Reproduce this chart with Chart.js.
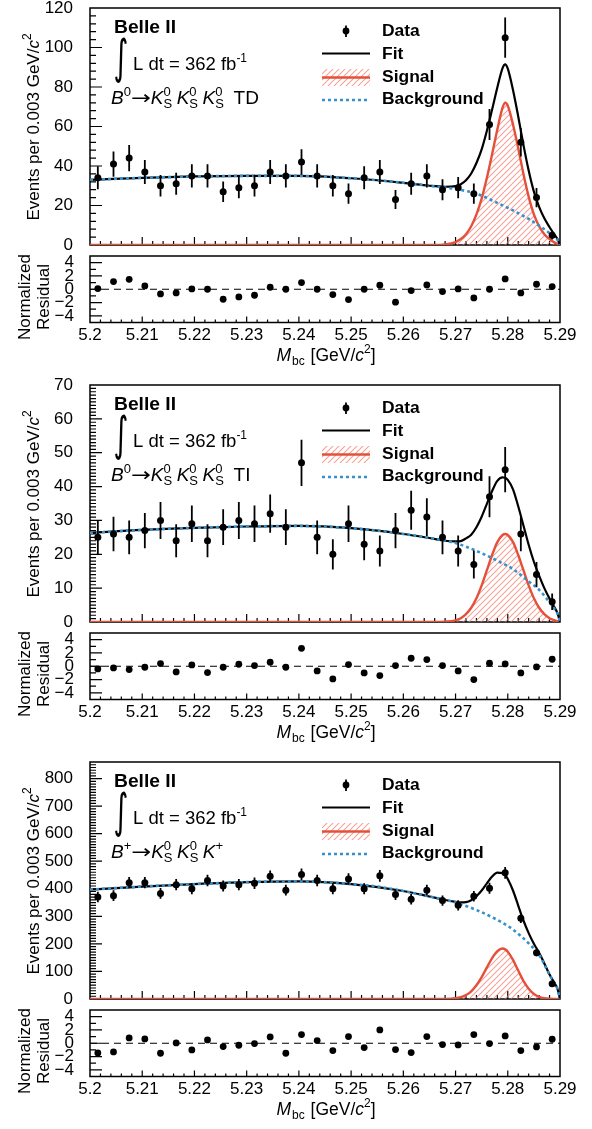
<!DOCTYPE html>
<html>
<head>
<meta charset="utf-8">
<script src="https://cdn.jsdelivr.net/npm/chart.js@4.4.1/dist/chart.umd.min.js"></script>
<style>
  html, body { margin: 0; padding: 0; background: #fff; overflow: hidden; }
  #wrap { position: relative; width: 592px; height: 1129px; overflow: hidden; background: #fff; }
  #wrap canvas { position: absolute; left: 0; }
</style>
</head>
<body>
<div id="wrap"></div>
<script>
// ---- Binned M_bc data (bin width 0.003 GeV/c^2) ----
const binCenters = [5.2015, 5.2045, 5.2075, 5.2105, 5.2135, 5.2165, 5.2195, 5.2225, 5.2255, 5.2285,
                    5.2315, 5.2345, 5.2375, 5.2405, 5.2435, 5.2465, 5.2495, 5.2525, 5.2555, 5.2585,
                    5.2615, 5.2645, 5.2675, 5.2705, 5.2735, 5.2765, 5.2795, 5.2825, 5.2855, 5.2885];

// B0 -> KS KS KS, time-dependent sample
const tdCounts    = [34, 41, 44, 37, 30, 31, 35, 35, 27, 29, 30, 37, 35, 42, 35, 30, 26, 34, 37, 23,
                     31, 35, 28, 29, 26, 61, 105, 52, 24, 5];
const tdResiduals = [0.1, 1.15, 1.5, 0.5, -0.7, -0.55, 0.05, 0.0, -1.5, -1.15, -0.9, 0.3, 0.0, 1.0, 0.0,
                     -0.8, -1.55, 0.0, 0.6, -1.95, -0.2, 0.65, -0.35, 0.05, -1.3, 0.0, 1.55, -0.55, 0.75, 0.4];

// B0 -> KS KS KS, time-integrated sample
const tiCounts    = [25, 26, 25, 27, 30, 24, 29, 24, 28, 30, 29, 32, 28, 47, 25, 20, 29, 23, 21, 27,
                     33, 31, 25, 21, 17, 37, 45, 26, 14, 6];
const tiResiduals = [-0.4, -0.25, -0.5, -0.15, 0.4, -0.85, 0.2, -0.95, -0.15, 0.3, 0.1, 0.6, -0.15, 2.7, -0.7,
                     -1.9, 0.25, -1.0, -1.4, 0.1, 1.2, 1.0, 0.1, -0.7, -2.0, 0.45, 0.35, -1.0, -0.1, 1.05];

// B+ -> KS KS K+
const kpCounts    = [370, 375, 422, 422, 383, 415, 400, 430, 410, 415, 420, 445, 395, 452, 430, 400, 435, 400, 447, 379,
                     362, 395, 357, 340, 373, 402, 458, 293, 168, 55];
const kpResiduals = [-1.45, -1.3, 0.8, 0.65, -1.5, 0.05, -1.0, 0.5, -0.5, -0.3, -0.05, 0.95, -1.5, 1.3, 0.4,
                     -1.1, 1.0, -0.65, 2.0, -0.95, -1.4, 1.0, -0.2, -0.25, 1.3, -0.05, 1.1, -1.1, -0.55, 0.6];

// ---- Fit projections ----
const bkgMass = [5.200, 5.210, 5.220, 5.230, 5.240, 5.250, 5.255, 5.260, 5.265, 5.270,
                 5.274, 5.278, 5.281, 5.284, 5.286, 5.288, 5.289, 5.2895, 5.290];
const tdBackground = [33.0, 34.0, 34.7, 35.0, 35.0, 33.8, 32.8, 31.5, 30.0, 28.3, 26.0, 21.3, 17.5, 13.2, 9.8, 6.0, 3.8, 2.6, 0];
const tiBackground = [26.3, 27.2, 27.8, 28.2, 28.4, 27.7, 27.0, 26.0, 24.8, 23.3, 21.0, 18.1, 15.6, 12.0, 9.5, 5.8, 3.7, 2.5, 0];
const kpBackground = [397, 408, 417, 424, 427, 417, 408, 392, 372, 350, 323, 287, 252, 202, 160, 88, 56, 38, 0];

const sigMass = [5.200, 5.266, 5.268, 5.270, 5.271, 5.272, 5.273, 5.274, 5.275, 5.276, 5.277, 5.278, 5.279,
                 5.2795, 5.280, 5.281, 5.282, 5.283, 5.284, 5.285, 5.286, 5.287, 5.288, 5.289, 5.290];
const tdSignal = [0, 0, 0.3, 1.5, 3.0, 5.5, 9.5, 15.5, 23.5, 34, 46, 58.5, 69.5, 72, 70.5, 61, 49, 36, 24.5, 15.5, 9.5, 5.5, 3.0, 1.2, 0];
const tiSignal = [0, 0, 0.1, 0.5, 1.1, 2.3, 4.2, 7.0, 10.8, 15.3, 19.8, 23.6, 25.7, 26, 25.7, 23.6, 19.8, 15.3, 10.8, 7.0, 4.2, 2.3, 1.1, 0.5, 0];
const kpSignal = [0, 0, 0.3, 2.7, 6.5, 14.3, 28.1, 49.9, 79.6, 114.5, 148.6, 173.7, 183, 180.1, 171.7, 141.8, 103.1, 65.9, 37.2, 18.4, 8.0, 3.1, 1.0, 0.3, 0];

const fitMass = [5.200, 5.210, 5.220, 5.230, 5.240, 5.250, 5.260, 5.265, 5.268, 5.270, 5.271, 5.272, 5.273, 5.274,
                 5.275, 5.276, 5.277, 5.278, 5.279, 5.2795, 5.280, 5.281, 5.282, 5.283, 5.284, 5.285, 5.286, 5.287,
                 5.288, 5.289, 5.2895, 5.290];
const tdFit = [33.0, 34.0, 34.7, 35.0, 35.0, 33.8, 31.5, 30.0, 29.5, 29.8, 30.8, 32.8, 36.2, 41.5, 48.4, 57.8, 68.6, 79.8,
               89.6, 91.5, 89.3, 78.5, 65.1, 50.7, 37.7, 27.0, 19.3, 13.5, 9.0, 5.0, 3.1, 0];
const tiFit = [26.3, 27.2, 27.8, 28.2, 28.4, 27.7, 26.0, 24.8, 24.0, 23.8, 23.9, 24.7, 25.8, 28.0, 31.1, 34.9, 38.7, 41.7,
               42.7, 42.6, 42.0, 39.2, 34.2, 28.5, 22.8, 17.8, 13.7, 10.0, 6.9, 4.2, 2.7, 0];
const kpFit = [397, 408, 417, 424, 427, 417, 392, 372, 359.3, 352.7, 350.5, 351.3, 358.1, 372.9, 393.6, 419.5, 444.6, 458.5,
               457, 450.1, 435.7, 393.8, 339.1, 284.9, 239.2, 200.4, 168, 129.1, 89, 56.3, 38.1, 0];

// ---- Axis ticks ----
const massTicks = [5.2, 5.21, 5.22, 5.23, 5.24, 5.25, 5.26, 5.27, 5.28, 5.29];
const tdYTicks = [0, 20, 40, 60, 80, 100, 120];
const tiYTicks = [0, 10, 20, 30, 40, 50, 60, 70];
const kpYTicks = [0, 100, 200, 300, 400, 500, 600, 700, 800];
const residualTicks = [-4, -2, 0, 2, 4];

// ---- Styling ----
const SANS = "'Liberation Sans', Arial, Helvetica, sans-serif";
const RED = '#e5503b';
const BLUE = '#3590cc';
const IT = s => `italic ${s}px ${SANS}`;
const RG = s => `${s}px ${SANS}`;

Chart.defaults.font.family = SANS;
Chart.defaults.font.size = 17;
Chart.defaults.color = '#000';

const K0S = () => [
  { t: 'K', font: IT(19) },
  { stack: true, up: '0', down: 'S', font: RG(13), upDy: -7.5, downDy: 4.5, gap: 4.5 }
];
const ARROW = { t: '\u2192', font: "19px 'DejaVu Sans'", pre: 0, gap: 0, sx: 1.25 };
const decayTD = [{ t: 'B', font: IT(19) }, { t: '0', font: RG(13), dy: -7.5 },
  ARROW, ...K0S(), ...K0S(), ...K0S(), { t: ' TD', font: RG(19) }];
const decayTI = [{ t: 'B', font: IT(19) }, { t: '0', font: RG(13), dy: -7.5 },
  ARROW, ...K0S(), ...K0S(), ...K0S(), { t: ' TI', font: RG(19) }];
const decayKp = [{ t: 'B', font: IT(19) }, { t: '+', font: RG(13), dy: -7.5 },
  ARROW, ...K0S(), ...K0S(), { t: 'K', font: IT(19) }, { t: '+', font: RG(13), dy: -7.5 }];

const panels = [
  { top: 0,   counts: tdCounts, resid: tdResiduals, bkg: tdBackground, sig: tdSignal, fit: tdFit,
    yMax: 120, yTicks: tdYTicks, yMinor: 4,  yMajor: 20,  decay: decayTD },
  { top: 377, counts: tiCounts, resid: tiResiduals, bkg: tiBackground, sig: tiSignal, fit: tiFit,
    yMax: 70,  yTicks: tiYTicks, yMinor: 1,  yMajor: 10,  decay: decayTI },
  { top: 754, counts: kpCounts, resid: kpResiduals, bkg: kpBackground, sig: kpSignal, fit: kpFit,
    yMax: 860, yTicks: kpYTicks, yMinor: 10, yMajor: 100, decay: decayKp }
];

const wrap = document.getElementById('wrap');

function makeCanvas(top, height) {
  const cv = document.createElement('canvas');
  cv.width = 592; cv.height = height;
  cv.style.top = top + 'px';
  cv.style.width = '592px'; cv.style.height = height + 'px';
  wrap.appendChild(cv);
  return cv;
}

// Diagonal "/" hatch tile, written pixel by pixel
function makeHatch(ctx) {
  const N = 6;
  const tile = document.createElement('canvas');
  tile.width = N; tile.height = N;
  const g = tile.getContext('2d');
  const img = g.createImageData(N, N);
  for (let j = 0; j < N; j++) {
    for (let i = 0; i < N; i++) {
      const d = (i + j) % N;
      const a = d === N - 1 ? 170 : (d === 0 || d === N - 2 ? 45 : 0);
      const k = (j * N + i) * 4;
      img.data[k] = 238; img.data[k + 1] = 120; img.data[k + 2] = 100; img.data[k + 3] = a;
    }
  }
  g.putImageData(img, 0, 0);
  return ctx.createPattern(tile, 'repeat');
}

// Mixed-style text: plain runs, raised/lowered runs, and stacked sup/sub pairs
function drawRich(ctx, segs, x, y, align = 'left', sx = 1) {
  let w = 0;
  for (const s of segs) {
    ctx.font = s.font;
    const tw = s.stack ? Math.max(ctx.measureText(s.up).width, ctx.measureText(s.down).width)
                       : ctx.measureText(s.t).width * (s.sx || 1);
    s._w = tw + (s.gap || 0) + (s.pre || 0);
    w += s._w;
  }
  ctx.save();
  ctx.translate(x, y);
  ctx.scale(sx, 1);
  ctx.textAlign = 'left';
  ctx.textBaseline = 'alphabetic';
  ctx.fillStyle = '#000';
  let cx = align === 'center' ? -w / 2 : 0;
  for (const s of segs) {
    ctx.font = s.font;
    const px = cx + (s.pre || 0);
    if (s.stack) {
      ctx.fillText(s.up, px, s.upDy);
      ctx.fillText(s.down, px, s.downDy);
    } else if (s.sx) {
      ctx.save();
      ctx.translate(px, s.dy || 0);
      ctx.scale(s.sx, 1);
      ctx.fillText(s.t, 0, 0);
      ctx.restore();
    } else {
      ctx.fillText(s.t, px, s.dy || 0);
    }
    cx += s._w;
  }
  ctx.restore();
  return w * sx;
}

// Tall integral sign fitted into a box
function drawIntegral(ctx, left, top, width, height) {
  ctx.save();
  ctx.font = "100px 'DejaVu Sans'";
  const m = ctx.measureText('\u222B');
  const gh = m.actualBoundingBoxAscent + m.actualBoundingBoxDescent;
  const gw = m.actualBoundingBoxLeft + m.actualBoundingBoxRight;
  ctx.translate(left, top);
  ctx.scale(width / gw, height / gh);
  ctx.fillStyle = '#000';
  ctx.textBaseline = 'alphabetic';
  ctx.textAlign = 'left';
  ctx.fillText('\u222B', m.actualBoundingBoxLeft, m.actualBoundingBoxAscent);
  ctx.restore();
}

// Frame plus inward-pointing ticks (major and minor)
function frameTicks(cfg) {
  return {
    id: 'frameTicks',
    beforeDatasetsDraw(chart) {
      const { ctx, chartArea: a, scales: { x, y } } = chart;
      ctx.save();
      ctx.strokeStyle = '#000';
      ctx.lineWidth = 1.2;
      ctx.beginPath();
      for (let i = 1; i < 45; i++) {
        const v = (5200 + 2 * i) / 1000;
        const px = x.getPixelForValue(v);
        const L = i % 5 === 0 ? cfg.xLen[0] : cfg.xLen[1];
        ctx.moveTo(px, a.bottom);
        ctx.lineTo(px, a.bottom - L);
      }
      const n = Math.round((y.max - y.min) / cfg.yMinor);
      for (let k = 1; k < n; k++) {
        const v = y.min + k * cfg.yMinor;
        const r = v / cfg.yMajor;
        const major = Math.abs(r - Math.round(r)) < 1e-6;
        const py = y.getPixelForValue(v);
        ctx.moveTo(a.left, py);
        ctx.lineTo(a.left + (major ? cfg.yLen[0] : cfg.yLen[1]), py);
      }
      ctx.stroke();
      ctx.lineWidth = 1.5;
      ctx.strokeRect(a.left, a.top, a.right - a.left, a.bottom - a.top);
      if (cfg.zeroLine) {
        const py = y.getPixelForValue(0);
        ctx.lineWidth = 1.2;
        ctx.setLineDash([7, 5]);
        ctx.beginPath();
        ctx.moveTo(a.left, py);
        ctx.lineTo(a.right, py);
        ctx.stroke();
      }
      ctx.restore();
    }
  };
}

// Poisson error bars on the data points
function errorBars(counts, dsIndex) {
  return {
    id: 'errorBars',
    afterDatasetsDraw(chart) {
      const { ctx, scales: { y } } = chart;
      const meta = chart.getDatasetMeta(dsIndex);
      ctx.save();
      ctx.strokeStyle = '#000';
      ctx.lineWidth = 1.8;
      ctx.beginPath();
      meta.data.forEach((pt, i) => {
        const c = counts[i];
        const e = Math.sqrt(c);
        ctx.moveTo(pt.x, y.getPixelForValue(c + e));
        ctx.lineTo(pt.x, y.getPixelForValue(Math.max(c - e, 0)));
      });
      ctx.stroke();
      ctx.restore();
    }
  };
}

// Labels, legend and axis title of an upper pad
function panelText(decay, hatch) {
  return {
    id: 'panelText',
    afterDraw(chart) {
      const ctx = chart.ctx;
      ctx.save();
      drawRich(ctx, [{ t: 'Belle II', font: `bold 17.5px ${SANS}` }], 114, 32.5, 'left', 1.1);
      drawIntegral(ctx, 115, 37, 12, 46);
      drawRich(ctx, [{ t: 'L dt = 362 fb', font: RG(18.5) }, { t: '-1', font: RG(12), dy: -8.5 }], 133, 70);
      drawRich(ctx, decay, 111, 103.5);

      // legend
      ctx.fillStyle = '#000';
      ctx.beginPath(); ctx.arc(346, 31, 3.4, 0, Math.PI * 2); ctx.fill();
      ctx.strokeStyle = '#000'; ctx.lineWidth = 1.8;
      ctx.beginPath(); ctx.moveTo(346, 25.5); ctx.lineTo(346, 37); ctx.stroke();
      ctx.lineWidth = 2.2;
      ctx.beginPath(); ctx.moveTo(322, 53.5); ctx.lineTo(370, 53.5); ctx.stroke();
      ctx.fillStyle = hatch; ctx.fillRect(322, 69, 48, 17);
      ctx.strokeStyle = RED; ctx.lineWidth = 2.4;
      ctx.beginPath(); ctx.moveTo(322, 77.5); ctx.lineTo(370, 77.5); ctx.stroke();
      ctx.strokeStyle = BLUE; ctx.lineWidth = 2.6; ctx.setLineDash([3, 3]);
      ctx.beginPath(); ctx.moveTo(322, 100); ctx.lineTo(370, 100); ctx.stroke();
      ctx.setLineDash([]);
      const lf = `bold 16px ${SANS}`;
      drawRich(ctx, [{ t: 'Data', font: lf }], 382, 36, 'left', 1.09);
      drawRich(ctx, [{ t: 'Fit', font: lf }], 382, 59, 'left', 1.09);
      drawRich(ctx, [{ t: 'Signal', font: lf }], 382, 81.7, 'left', 1.09);
      drawRich(ctx, [{ t: 'Background', font: lf }], 382, 104.3, 'left', 1.09);

      // y-axis title
      ctx.translate(33, 127);
      ctx.rotate(-Math.PI / 2);
      drawRich(ctx, [{ t: 'Events per 0.003 GeV/', font: RG(17) }, { t: 'c', font: IT(17) },
                     { t: '2', font: RG(12), dy: -8 }], 0, 6, 'center');
      ctx.restore();
    }
  };
}

function residualText() {
  return {
    id: 'residualText',
    afterDraw(chart) {
      const ctx = chart.ctx;
      ctx.save();
      ctx.translate(0, 45);
      ctx.save();
      ctx.translate(29.5, 0); ctx.rotate(-Math.PI / 2);
      drawRich(ctx, [{ t: 'Normalized', font: RG(17) }], 0, 0, 'center');
      ctx.restore();
      ctx.save();
      ctx.translate(48.5, 0); ctx.rotate(-Math.PI / 2);
      drawRich(ctx, [{ t: 'Residual', font: RG(17) }], 0, 0, 'center');
      ctx.restore();
      ctx.restore();
      drawRich(ctx, [{ t: 'M', font: IT(17.5), gap: 1 }, { t: 'bc', font: RG(12), dy: 4, gap: 1 },
                     { t: ' [GeV/', font: RG(17.5) }, { t: 'c', font: IT(17.5) },
                     { t: '2', font: RG(12), dy: -8 }, { t: ']', font: RG(17.5) }], 326, 109, 'center');
    }
  };
}

const fixWidth = s => { s.width = 90; s.paddingTop = 0; s.paddingBottom = 0; };

panels.forEach(p => {
  // upper pad: distribution with fit components
  const cv = makeCanvas(p.top, 252);
  const ctx = cv.getContext('2d');
  const hatch = makeHatch(ctx);
  new Chart(cv, {
    type: 'line',
    data: {
      datasets: [
        { label: 'Signal', data: sigMass.map((x, i) => ({ x, y: p.sig[i] })), borderColor: RED, borderWidth: 2.4,
          backgroundColor: hatch, fill: 'origin', pointRadius: 0, cubicInterpolationMode: 'monotone', order: 4 },
        { label: 'Fit', data: fitMass.map((x, i) => ({ x, y: p.fit[i] })), borderColor: '#000', borderWidth: 2.2,
          fill: false, pointRadius: 0, cubicInterpolationMode: 'monotone', order: 3 },
        { label: 'Background', data: bkgMass.map((x, i) => ({ x, y: p.bkg[i] })), borderColor: BLUE, borderWidth: 2.6,
          borderDash: [3, 3], fill: false, pointRadius: 0, cubicInterpolationMode: 'monotone', order: 2 },
        { label: 'Data', data: binCenters.map((x, i) => ({ x, y: p.counts[i] })), showLine: false,
          pointRadius: 3.5, pointBackgroundColor: '#000', pointBorderWidth: 0, borderColor: '#000', order: 1 }
      ]
    },
    options: {
      responsive: false, animation: false, devicePixelRatio: 1,
      layout: { padding: { left: 0, right: 32, top: 8, bottom: 7 } },
      plugins: { legend: { display: false }, tooltip: { enabled: false } },
      scales: {
        x: { type: 'linear', min: 5.2, max: 5.29, display: false },
        y: {
          type: 'linear', min: 0, max: p.yMax,
          afterBuildTicks: s => { s.ticks = p.yTicks.map(v => ({ value: v })); },
          afterFit: fixWidth,
          grid: { display: false }, border: { display: false },
          ticks: { padding: 9, autoSkip: false, font: { size: 17 }, color: '#000' }
        }
      }
    },
    plugins: [frameTicks({ xLen: [8, 4], yLen: [12, 6], yMinor: p.yMinor, yMajor: p.yMajor }),
              errorBars(p.counts, 3), panelText(p.decay, hatch)]
  });

  // lower pad: normalized residuals
  const rv = makeCanvas(p.top + 252, 125);
  new Chart(rv, {
    type: 'scatter',
    data: {
      datasets: [{ label: 'Residual', data: binCenters.map((x, i) => ({ x, y: p.resid[i] })),
                   pointRadius: 3.4, pointBackgroundColor: '#000', pointBorderWidth: 0, borderColor: '#000' }]
    },
    options: {
      responsive: false, animation: false, devicePixelRatio: 1,
      layout: { padding: { left: 0, right: 32, top: 4, bottom: 0 } },
      plugins: { legend: { display: false }, tooltip: { enabled: false } },
      scales: {
        x: {
          type: 'linear', min: 5.2, max: 5.29,
          afterBuildTicks: s => { s.ticks = massTicks.map(v => ({ value: v })); },
          afterFit: s => { s.height = 54.5; s.paddingLeft = 0; s.paddingRight = 0; },
          grid: { display: false }, border: { display: false },
          ticks: { padding: -5, autoSkip: false, maxRotation: 0, font: { size: 17 }, color: '#000',
                   callback: v => String(v) }
        },
        y: {
          type: 'linear', min: -5, max: 5,
          afterBuildTicks: s => { s.ticks = residualTicks.map(v => ({ value: v })); },
          afterFit: fixWidth,
          grid: { display: false }, border: { display: false },
          ticks: { padding: 8, autoSkip: false, font: { size: 17 }, color: '#000',
                   callback: v => (v < 0 ? '\u2212' + Math.abs(v) : String(v)) }
        }
      }
    },
    plugins: [frameTicks({ xLen: [6, 3], yLen: [12, 6], yMinor: 1, yMajor: 2, zeroLine: true }), residualText()]
  });
});
</script>
</body>
</html>
